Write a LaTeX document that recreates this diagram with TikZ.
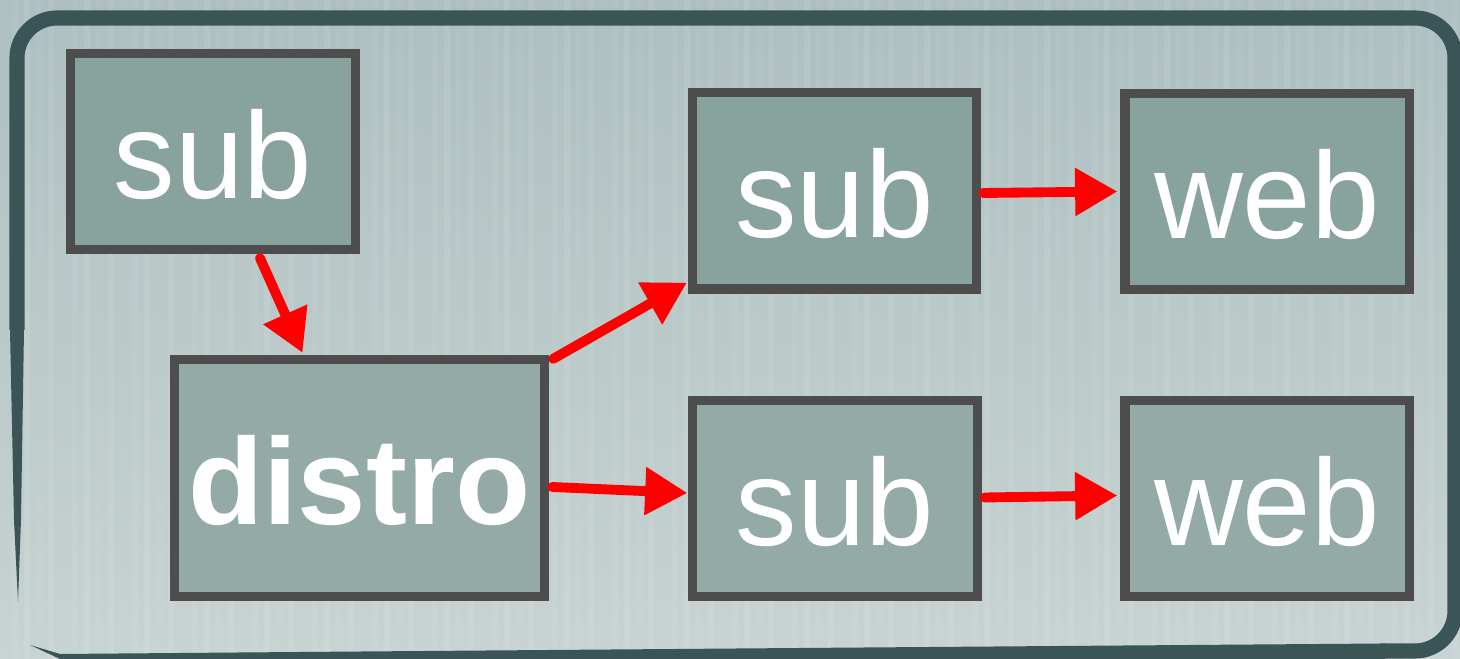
\documentclass[tikz,border=0pt]{standalone}
\usepackage{fontspec}
\setmainfont{Liberation Sans}
\usetikzlibrary{arrows.meta,calc}
\definecolor{bgtop}{HTML}{ADBFBF}
\definecolor{bgbot}{HTML}{C8D3D3}
\definecolor{framecol}{HTML}{3B5556}
\definecolor{boxline}{HTML}{4D4D4D}
\definecolor{boxA}{HTML}{88A29E}
\definecolor{boxB}{HTML}{93AAA7}
\definecolor{arrowred}{HTML}{FF0000}
\tikzset{
  box/.style={draw=boxline, line width=2.6pt, text=white,
    font=\fontsize{35}{40}\selectfont, minimum width=2.84cm,
    minimum height=1.96cm, inner sep=0pt, text height=0.93cm, text depth=0pt},
  link/.style={draw=arrowred, line width=2.8pt, line cap=round,
    -{Triangle[length=12pt,width=13pt]}},
}
\begin{document}
\begin{tikzpicture}[x=0.01cm,y=-0.01cm]
\useasboundingbox (0,0) rectangle (1460,659);
\shade[top color=bgtop,bottom color=bgbot] (0,0) rectangle (1460,659);
\foreach \i [evaluate=\i as \op using {0.015+0.02*mod(\i*7,5)}] in {0,...,121}
  \fill[white,opacity=\op] (\i*12,0) rectangle ++(6,659);
% frame
\draw[framecol, line width=4.3pt, rounded corners=0.4cm]
  (17,330) -- (17,18) -- (1455,18) -- (1455,651) -- (1380,651);
\fill[framecol] (10,330) -- (24,330) -- (21,520) -- (18,602) -- (14,520) -- cycle;
\fill[framecol] (1385,643.5) -- (1385,659) -- (60,659) -- (30,645) -- (60,654)
  -- (300,652) -- (800,648) -- cycle;
% boxes
\node[box,fill=boxA] (s1) at (213,151.5) {sub};
\node[box,fill=boxB, minimum width=3.70cm, minimum height=2.37cm,
  font=\fontsize{35}{40}\selectfont\bfseries] (d) at (359.5,478) {distro};
\node[box,fill=boxA] (s2) at (834.5,191) {sub};
\node[box,fill=boxA] (w1) at (1267,191.5) {web};
\node[box,fill=boxB] (s3) at (835,498.5) {sub};
\node[box,fill=boxB] (w2) at (1267,498.5) {web};
% connectors
\draw[link] ($(s1.south)+(47,4)$) -- ($(d.north)+(-57,-2)$);
\draw[link] ($(d.north east)+(4,4)$) -- ($(s2.south west)+(-1,-11)$);
\draw[link] ($(d.east)+(3,9)$) -- ($(s3.west)+(-1,-5.5)$);
\draw[link] ($(s2.east)+(2,2)$) -- ($(w1.west)+(-3,0)$);
\draw[link] ($(s3.east)+(3,-1)$) -- ($(w2.west)+(-3,-3)$);
\end{tikzpicture}
\end{document}
